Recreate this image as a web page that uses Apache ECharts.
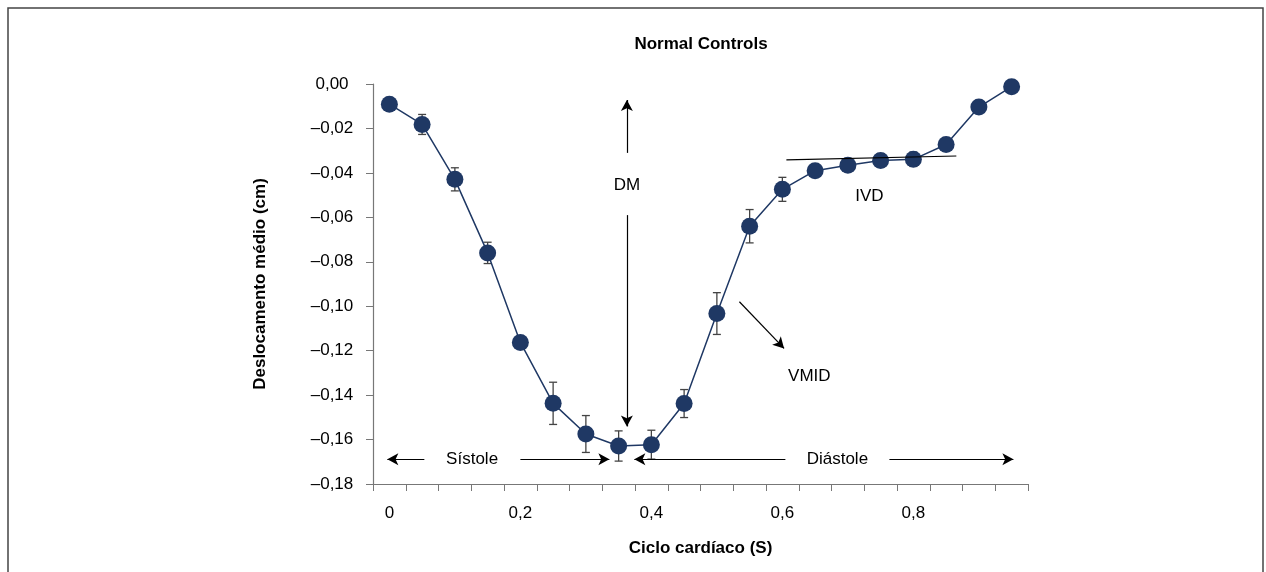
<!DOCTYPE html>
<html>
<head>
<meta charset="utf-8">
<script src="https://cdn.jsdelivr.net/npm/echarts@6/dist/echarts.min.js"></script>
<style>
  html, body { margin: 0; padding: 0; background: #fff; }
  #main { width: 1266px; height: 572px; }
</style>
</head>
<body>
<div id="main"></div>
<script>
// ciclo cardíaco, pontos a cada 0,05 s
var tempos = ['0', '0,05', '0,1', '0,15', '0,2', '0,25', '0,3', '0,35', '0,4', '0,45',
              '0,5', '0,55', '0,6', '0,65', '0,7', '0,75', '0,8', '0,85', '0,9', '0,95'];
// deslocamento médio (cm)
var deslocamento = [-0.0091, -0.0182, -0.0429, -0.0760, -0.1163, -0.1437, -0.1575, -0.1629, -0.1623, -0.1438,
                    -0.1033, -0.0640, -0.0474, -0.0390, -0.0366, -0.0344, -0.0339, -0.0272, -0.0104, -0.0012];
// desvio (barras de erro)
var erro = [0.0010, 0.0045, 0.0052, 0.0048, 0.0015, 0.0095, 0.0083, 0.0068, 0.0065, 0.0063,
            0.0094, 0.0075, 0.0054, 0.0015, 0.0020, 0.0030, 0.0032, 0.0030, 0.0010, 0.0008];
var rotulosX = {'0': '0', '0,2': '0,2', '0,4': '0,4', '0,6': '0,6', '0,8': '0,8'};

// anotações (coordenadas em segundos / cm)
var setas = [
  [[0.3626, -0.0310], [0.3626, -0.0072]],   // DM para cima
  [[0.3626, -0.0590], [0.3626, -0.1541]],   // DM para baixo
  [[0.0534, -0.1689], [-0.0031, -0.1689]],  // sístole esquerda
  [[0.2000, -0.1689], [0.3359, -0.1689]],   // sístole direita
  [[0.6046, -0.1689], [0.3740, -0.1689]],   // diástole esquerda
  [[0.7634, -0.1689], [0.9527, -0.1689]],   // diástole direita
  [[0.5344, -0.0980], [0.6026, -0.1190]]    // VMID
];
var linhaIVD = [[0.6061, -0.0341], [0.8656, -0.0324]];
var textos = [
  [0.3626, -0.0455, 'DM'],
  [0.1263, -0.1689, 'Sístole'],
  [0.6840, -0.1689, 'Diástole'],
  [0.6412, -0.1317, 'VMID'],
  [0.7328, -0.0507, 'IVD']
];

var fonte = "'Liberation Sans Narrow', 'Arial Narrow', 'Liberation Sans', Arial, sans-serif";

var chart = echarts.init(document.getElementById('main'));

var marcas = setas.map(function (s) {
  return [{coord: s[0], symbol: 'none'}, {coord: s[1], symbol: 'arrow'}];
});
marcas.push([{coord: linhaIVD[0], symbol: 'none'}, {coord: linhaIVD[1], symbol: 'none'}]);

var errData = deslocamento.map(function (v, i) { return [i, v, erro[i]]; });

var option = {
  backgroundColor: '#fff',
  animation: false,
  textStyle: { fontFamily: fonte },
  title: {
    text: 'Normal Controls',
    left: 696, top: 31, textAlign: 'center',
    textStyle: { fontFamily: fonte, fontWeight: 'bold', fontSize: 17, color: '#000' }
  },
  graphic: [{
    type: 'rect',
    shape: { x: 8, y: 8, width: 1255, height: 600 },
    style: { fill: 'none', stroke: '#444', lineWidth: 1.5 },
    silent: true
  }],
  grid: { left: 373, top: 84, right: 238, bottom: 88 },
  xAxis: [{
    type: 'category',
    data: tempos,
    boundaryGap: true,
    name: 'Ciclo cardíaco (S)',
    nameLocation: 'middle',
    nameGap: 56,
    nameTextStyle: { fontFamily: fonte, fontWeight: 'bold', fontSize: 17, color: '#000' },
    axisLine: { onZero: false, lineStyle: { color: '#777', width: 1.2 } },
    axisTick: { show: true, interval: 0, length: 7, lineStyle: { color: '#777' } },
    axisLabel: {
      interval: 3, margin: 21, fontSize: 17, color: '#000', fontFamily: fonte,
      formatter: function (v) { return rotulosX[v] || ''; }
    },
    splitLine: { show: false }
  }, {
    type: 'value',
    min: -0.025, max: 0.975,
    show: false
  }],
  yAxis: {
    type: 'value',
    min: -0.18, max: 0, interval: 0.02,
    name: 'Deslocamento médio (cm)',
    nameLocation: 'middle',
    nameGap: 104,
    nameRotate: 90,
    nameTextStyle: { fontFamily: fonte, fontWeight: 'bold', fontSize: 17, color: '#000' },
    axisLine: { show: true, onZero: false, lineStyle: { color: '#777', width: 1.2 } },
    axisTick: { show: true, length: 7, lineStyle: { color: '#777' } },
    axisLabel: {
      margin: 41, align: 'center', fontSize: 17, color: '#000', fontFamily: fonte,
      formatter: function (v) {
        var s = Math.abs(v).toFixed(2).replace('.', ',');
        return (v < -1e-9 ? '–' : '') + s;
      }
    },
    splitLine: { show: false }
  },
  series: [{
    type: 'custom',
    name: 'erro',
    xAxisIndex: 0,
    z: 1,
    renderItem: function (params, api) {
      var i = api.value(0), v = api.value(1), e = api.value(2);
      var top = api.coord([i, v + e]);
      var bot = api.coord([i, v - e]);
      var w = 4;
      var st = { stroke: '#444', lineWidth: 1.3 };
      return {
        type: 'group',
        children: [
          { type: 'line', shape: { x1: top[0], y1: top[1], x2: bot[0], y2: bot[1] }, style: st },
          { type: 'line', shape: { x1: top[0] - w, y1: top[1], x2: top[0] + w, y2: top[1] }, style: st },
          { type: 'line', shape: { x1: bot[0] - w, y1: bot[1], x2: bot[0] + w, y2: bot[1] }, style: st }
        ]
      };
    },
    encode: { x: 0, y: 1 },
    data: errData
  }, {
    type: 'line',
    name: 'Normal Controls',
    xAxisIndex: 0,
    z: 3,
    data: deslocamento,
    symbol: 'circle',
    symbolSize: 17,
    itemStyle: { color: '#1f3864' },
    lineStyle: { color: '#1f3864', width: 1.5 }
  }, {
    type: 'scatter',
    name: 'anotacoes',
    xAxisIndex: 1,
    z: 4,
    symbolSize: 0,
    data: textos,
    label: {
      show: true, position: 'inside', fontSize: 17, color: '#000', opacity: 1,
      textBorderWidth: 0, fontFamily: fonte,
      formatter: function (p) { return p.data[2]; }
    },
    emphasis: { disabled: true },
    markLine: {
      silent: true,
      symbolSize: [9, 11],
      label: { show: false },
      lineStyle: { color: '#000', width: 1.2, type: 'solid' },
      data: marcas
    }
  }]
};

chart.setOption(option);
</script>
</body>
</html>
